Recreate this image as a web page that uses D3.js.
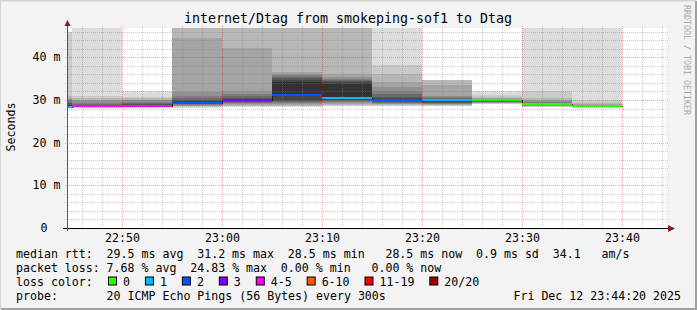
<!DOCTYPE html>
<html>
<head>
<meta charset="utf-8">
<script src="https://cdn.jsdelivr.net/npm/d3@7"></script>
<style>
  body { margin: 0; background: #f3f3f3; }
  text { font-family: "DejaVu Sans Mono", monospace; white-space: pre; }
</style>
</head>
<body>
<svg id="chart" width="697" height="310"></svg>
<script>
// 5 minute steps, each bar ends at the given time
const stepEnd = ["22:45", "22:50", "22:55", "23:00", "23:05", "23:10",
                 "23:15", "23:20", "23:25", "23:30", "23:35", "23:40"];
const medianMs = [28.4, 28.6, 28.7, 29.4, 29.9, 31.2, 30.4, 29.9, 29.9, 29.9, 29.0, 28.6];
const lossCount = [1, 4, 4, 2, 3, 2, 1, 2, 1, 0, 0, 0];

// sorted ping rtts (ms) of each step, values above the top are clipped
const pings = [
  [28.0,28.1,28.2,28.2,28.3,28.3,28.4,28.4,28.5,28.5,28.7,28.9,29.2,29.6,30.0,30.2,30.5,31.0,45.9,45.9],
  [28.1,28.2,28.3,28.3,28.4,28.4,28.5,28.5,28.6,28.6,28.7,28.8,28.9,29.1,29.4,29.7,30.0,30.5,30.9,60],
  [28.2,28.3,28.3,28.4,28.5,28.5,28.6,28.6,28.7,28.7,28.8,28.9,29.1,29.3,29.6,29.9,30.1,30.4,30.8,32.0],
  [28.2,28.4,28.5,28.6,28.7,28.9,29.0,29.1,29.2,29.3,29.5,29.7,30.0,30.4,30.9,31.8,44.5,60,65,70],
  [28.3,28.5,28.7,28.9,29.0,29.2,29.4,29.5,29.7,29.8,30.0,30.2,30.5,30.9,31.5,32.2,42.1,60,65,70],
  [28.3,28.5,28.7,28.9,29.1,29.3,29.5,29.7,29.9,30.9,34.3,34.8,35.2,35.5,35.8,36.1,36.5,60,65,70],
  [28.5,28.7,28.9,29.1,29.3,29.5,29.7,29.9,30.1,30.3,33.8,34.1,34.4,34.7,35.0,35.4,36.2,60,65,70],
  [28.5,28.6,28.8,29.0,29.1,29.3,29.4,29.6,29.7,29.8,30.1,30.4,30.8,31.3,32.0,33.0,34.3,36.2,38.1,70],
  [28.5,28.7,28.8,28.9,29.0,29.1,29.2,29.4,29.6,29.8,30.0,30.1,30.3,30.5,30.7,31.0,33.4,34.8,34.8,34.8],
  [29.0,29.1,29.2,29.3,29.4,29.5,29.6,29.7,29.8,29.85,29.95,30.0,30.05,30.1,30.2,30.3,30.4,30.6,31.1,32.0],
  [28.3,28.4,28.5,28.6,28.7,28.75,28.8,28.85,28.9,28.95,29.05,29.1,29.2,29.3,29.5,29.7,30.0,30.4,32.0,70],
  [28.2,28.25,28.3,28.35,28.4,28.45,28.5,28.55,28.58,28.6,28.62,28.65,28.7,28.75,28.8,28.9,29.0,29.3,29.9,70]
];

const lossLabels = ["0", "1", "2", "3", "4-5", "6-10", "11-19", "20/20"];
const lossColors = ["#26ff00", "#00b8ff", "#0059ff", "#7e00ff", "#ff00ff", "#ff5500", "#ff0000", "#a10000"];
const lossUpper = [0, 1, 2, 3, 5, 10, 19, 20];

const legendRows = [
  ["median rtt:", 0], ["29.5 ms avg", 13], ["31.2 ms max", 26], ["28.5 ms min", 39],
  ["28.5 ms now", 53], ["0.9 ms sd", 66], ["34.1", 77], ["am/s", 84]
];
const lossRow = [
  ["packet loss:", 0], ["7.68 % avg", 13], ["24.83 % max", 25], ["0.00 % min", 38], ["0.00 % now", 51]
];

const title = "internet/Dtag from smokeping-sof1 to Dtag";
const probeText = "20 ICMP Echo Pings (56 Bytes) every 300s";
const stamp = "Fri Dec 12 23:44:20 2025";

const W = 697, H = 310;
const margin = { left: 67, top: 28, right: 30, bottom: 82 };
const plotW = 600, plotH = 200;
const yMax = 46.87;
const cw = 6.97; // char width of the legend font

const parse = d3.timeParse("%Y-%m-%d %H:%M");
const day = "2025-12-12 ";
const tStart = new Date(parse(day + "22:44").getTime() + 30000);
const tEnd = new Date(parse(day + "23:44").getTime() + 30000);

const x = d3.scaleTime().domain([tStart, tEnd]).range([margin.left, margin.left + plotW]);
const y = d3.scaleLinear().domain([0, yMax]).range([margin.top + plotH, margin.top]);

const svg = d3.select("#chart");

// frame
svg.append("rect").attr("width", W).attr("height", H).attr("fill", "#f3f3f3");
svg.append("path").attr("d", `M0,${H - 1}V0.5H${W - 1}`).attr("fill", "none")
  .attr("stroke", "#d4d4d4").attr("stroke-width", 2);
svg.append("path").attr("d", `M1,${H - 1}H${W - 1}V1`).attr("fill", "none")
  .attr("stroke", "#a0a0a0").attr("stroke-width", 2);

svg.append("rect")
  .attr("x", margin.left).attr("y", margin.top)
  .attr("width", plotW).attr("height", plotH)
  .attr("fill", "#ffffff");

svg.append("clipPath").attr("id", "plot")
  .append("rect")
  .attr("x", margin.left).attr("y", margin.top)
  .attr("width", plotW).attr("height", plotH);

const steps = stepEnd.map((s, i) => {
  const end = parse(day + s);
  return {
    start: d3.timeMinute.offset(end, -5),
    end: end,
    median: medianMs[i],
    loss: lossCount[i],
    pings: pings[i]
  };
});

// smoke
const smoke = svg.append("g").attr("clip-path", "url(#plot)").attr("shape-rendering", "crispEdges");
const half = 10;
steps.forEach(d => {
  const n = d.pings.length;
  for (let k = 1; k <= half; k++) {
    const lo = d.pings[k - 1], hi = d.pings[n - k];
    const g = Math.round(190 / half * (half - k) + 50);
    const top = y(Math.min(hi, yMax + 1));
    smoke.append("rect")
      .attr("x", Math.round(x(d.start)))
      .attr("width", Math.round(x(d.end)) - Math.round(x(d.start)))
      .attr("y", Math.round(top))
      .attr("height", Math.max(0, Math.round(y(lo)) - Math.round(top)))
      .attr("fill", d3.rgb(g, g, g));
  }
});

// median
const medLine = [];
steps.forEach(d => { medLine.push([d.start, d.median]); medLine.push([d.end, d.median]); });
smoke.append("path")
  .datum(steps)
  .attr("fill", "none")
  .attr("stroke", "#202020")
  .attr("stroke-width", 1)
  .attr("d", d3.line().curve(d3.curveStepAfter)
    .x(d => Math.round(x(d.start)) + 0.5)
    .y(d => Math.round(y(d.median)) + 0.5)(steps.concat([{ start: steps[steps.length - 1].end, median: medianMs[medianMs.length - 1] }])));

const lossColor = l => lossColors[lossUpper.findIndex(u => l <= u)];
smoke.selectAll(".med")
  .data(steps)
  .enter()
  .append("rect")
  .attr("class", "med")
  .attr("x", d => Math.round(x(d.start)))
  .attr("width", d => Math.round(x(d.end)) - Math.round(x(d.start)))
  .attr("y", d => Math.round(y(d.median)) - 1)
  .attr("height", 2)
  .attr("fill", d => lossColor(d.loss));

// grid on top of the data
const grid = svg.append("g").attr("shape-rendering", "crispEdges");
const minorY = d3.range(2, yMax, 2).filter(v => v % 10 !== 0);
const majorY = d3.range(10, yMax, 10);
const minorX = d3.timeMinute.every(2).range(tStart, tEnd).filter(t => t.getMinutes() % 10 !== 0);
const majorX = d3.timeMinute.every(10).range(tStart, tEnd);

grid.selectAll(".hmin").data(minorY).enter().append("line")
  .attr("x1", margin.left - 2).attr("x2", margin.left + plotW + 2)
  .attr("y1", d => Math.round(y(d)) + 0.5).attr("y2", d => Math.round(y(d)) + 0.5)
  .attr("stroke", "rgba(128,128,128,0.4)").attr("stroke-dasharray", "1,1");
grid.selectAll(".vmin").data(minorX).enter().append("line")
  .attr("x1", d => Math.round(x(d)) + 0.5).attr("x2", d => Math.round(x(d)) + 0.5)
  .attr("y1", margin.top - 2).attr("y2", margin.top + plotH + 2)
  .attr("stroke", "rgba(128,128,128,0.4)").attr("stroke-dasharray", "1,1");
grid.selectAll(".hmaj").data(majorY).enter().append("line")
  .attr("x1", margin.left - 2).attr("x2", margin.left + plotW + 2)
  .attr("y1", d => Math.round(y(d)) + 0.5).attr("y2", d => Math.round(y(d)) + 0.5)
  .attr("stroke", "rgba(255,0,0,0.35)").attr("stroke-dasharray", "1,1");
grid.selectAll(".vmaj").data(majorX).enter().append("line")
  .attr("x1", d => Math.round(x(d)) + 0.5).attr("x2", d => Math.round(x(d)) + 0.5)
  .attr("y1", margin.top - 2).attr("y2", margin.top + plotH + 2)
  .attr("stroke", "rgba(255,0,0,0.35)").attr("stroke-dasharray", "1,1");

// axes
const y0 = margin.top + plotH + 0.5;
svg.append("line")
  .attr("x1", margin.left - 4).attr("x2", margin.left + plotW + 4)
  .attr("y1", y0).attr("y2", y0)
  .attr("stroke", "#000");
svg.append("line")
  .attr("x1", margin.left + 0.5).attr("x2", margin.left + 0.5)
  .attr("y1", margin.top + plotH + 3).attr("y2", margin.top - 4)
  .attr("stroke", "#555");
svg.append("path")
  .attr("d", `M${margin.left + plotW + 1},${y0 - 3.5}L${margin.left + plotW + 8},${y0}L${margin.left + plotW + 1},${y0 + 3.5}Z`)
  .attr("fill", "#8b1a1a");
svg.append("path")
  .attr("d", `M${margin.left + 0.5 - 3},${margin.top - 2}L${margin.left + 0.5},${margin.top - 8}L${margin.left + 0.5 + 3},${margin.top - 2}Z`)
  .attr("fill", "#8b1a1a");

// tick labels
const fs = 11.6;
svg.selectAll(".ylab")
  .data(d3.range(0, yMax, 10))
  .enter()
  .append("text")
  .attr("x", d => d === 0 ? 47.5 : 60.5)
  .attr("y", d => y(d) + 4)
  .attr("text-anchor", "end")
  .attr("font-size", fs)
  .text(d => d === 0 ? "0" : `${d} m`);

svg.selectAll(".xlab")
  .data(majorX)
  .enter()
  .append("text")
  .attr("x", d => x(d) + 0.5)
  .attr("y", 242)
  .attr("text-anchor", "middle")
  .attr("font-size", fs)
  .text(d3.timeFormat("%H:%M"));

svg.append("text")
  .attr("transform", `translate(15,${margin.top + plotH / 2 - 1}) rotate(-90)`)
  .attr("text-anchor", "middle")
  .attr("font-size", fs)
  .text("Seconds");

svg.append("text")
  .attr("x", 348).attr("y", 23)
  .attr("text-anchor", "middle")
  .attr("font-size", 13.3)
  .text(title);

svg.append("text")
  .attr("transform", "translate(684,5) rotate(90)")
  .attr("font-size", 8.3)
  .attr("fill", "#aaaaaa")
  .text("RRDTOOL / TOBI OETIKER");

// legend
const lx = 16;
const rowY = [258, 272, 285.5, 299.5];
const putRow = (row, yy) => row.forEach(([t, c]) => {
  svg.append("text").attr("x", lx + c * cw).attr("y", yy).attr("font-size", fs).text(t);
});
putRow(legendRows, rowY[0]);
putRow(lossRow, rowY[1]);

svg.append("text").attr("x", lx).attr("y", rowY[2]).attr("font-size", fs).text("loss color:");
let sx = 108;
lossLabels.forEach((lab, i) => {
  svg.append("rect")
    .attr("x", sx + 0.5).attr("y", rowY[2] - 8.5)
    .attr("width", 8).attr("height", 8)
    .attr("fill", lossColors[i]).attr("stroke", "#000");
  svg.append("text").attr("x", sx + 15).attr("y", rowY[2]).attr("font-size", fs).text(lab);
  sx += (lab.length + 4.3) * cw;
});

svg.append("text").attr("x", lx).attr("y", rowY[3]).attr("font-size", fs).text("probe:");
svg.append("text").attr("x", lx + 13 * cw).attr("y", rowY[3]).attr("font-size", fs).text(probeText);
svg.append("text").attr("x", 681).attr("y", rowY[3]).attr("text-anchor", "end").attr("font-size", fs).text(stamp);
</script>
</body>
</html>
